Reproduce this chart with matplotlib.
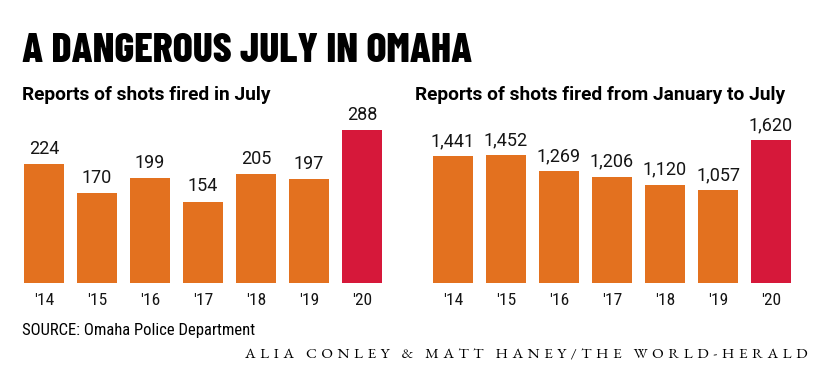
import matplotlib
matplotlib.use('Agg')
import matplotlib.pyplot as plt

# data
years = ["'14", "'15", "'16", "'17", "'18", "'19", "'20"]
july_shots = [224, 170, 199, 154, 205, 197, 288]
ytd_shots = [1441, 1452, 1269, 1206, 1120, 1057, 1620]

orange = '#E3711F'
red = '#D6183A'

# condensed faces, with plain fallbacks
head_font = ['Barlow Condensed', 'Liberation Sans Narrow', 'DejaVu Sans']
cond_font = ['Roboto Condensed', 'Liberation Sans Narrow', 'DejaVu Sans']
sub_font = ['Roboto', 'DejaVu Sans']
num_font = ['Roboto', 'DejaVu Sans']
serif_font = ['EB Garamond', 'Liberation Serif', 'DejaVu Serif']

W, H = 833, 381
fig = plt.figure(figsize=(W/100, H/100), dpi=100)

def px_axes(x0, w, base, h):
    return fig.add_axes([x0/W, 1 - base/H, w/W, h/H])

def bar_panel(ax, vals, top, fmt):
    cols = [orange]*(len(vals)-1) + [red]
    x = range(len(vals))
    ax.bar(x, vals, width=0.755, color=cols)
    ax.set_xlim(-0.5, len(vals)-0.5)
    ax.set_ylim(0, top)
    for i, v in enumerate(vals):
        ax.text(i, v + top*0.036, fmt(v), ha='center', va='bottom',
                fontsize=13, color='#151515', family=num_font)
    ax.set_xticks(list(x))
    ax.set_xticklabels(years, fontsize=12.5, color='#151515', family=cond_font)
    ax.tick_params(length=0, pad=7, axis='x')
    ax.set_yticks([])
    for s in ax.spines.values():
        s.set_visible(False)

ax1 = px_axes(17.5, 371, 283.3, 170)
bar_panel(ax1, july_shots, 170/0.531, lambda v: '%d' % v)

ax2 = px_axes(426.5, 371, 283.3, 170)
bar_panel(ax2, ytd_shots, 170/0.0882, lambda v: '{:,}'.format(v))

fig.text(22/W, 1-62/H, 'A DANGEROUS JULY IN OMAHA', fontsize=30,
         fontweight=800, family=head_font, va='baseline', ha='left')
fig.text(22/W, 1-100/H, 'Reports of shots fired in July', fontsize=13.8,
         fontweight='bold', family=sub_font, va='baseline', ha='left')
fig.text(415/W, 1-100/H, 'Reports of shots fired from January to July', fontsize=13.8,
         fontweight='bold', family=sub_font, va='baseline', ha='left')
fig.text(22/W, 1-335/H, 'SOURCE: Omaha Police Department', fontsize=12,
         family=cond_font, va='baseline', ha='left')
credit = 'ALIA CONLEY & MATT HANEY/THE WORLD-HERALD'
fig.text(808/W, 1-359/H, '\u2009\u2009\u2009'.join(credit), fontsize=11,
         family=serif_font, va='baseline', ha='right')

fig.savefig('out.png', dpi=100)
